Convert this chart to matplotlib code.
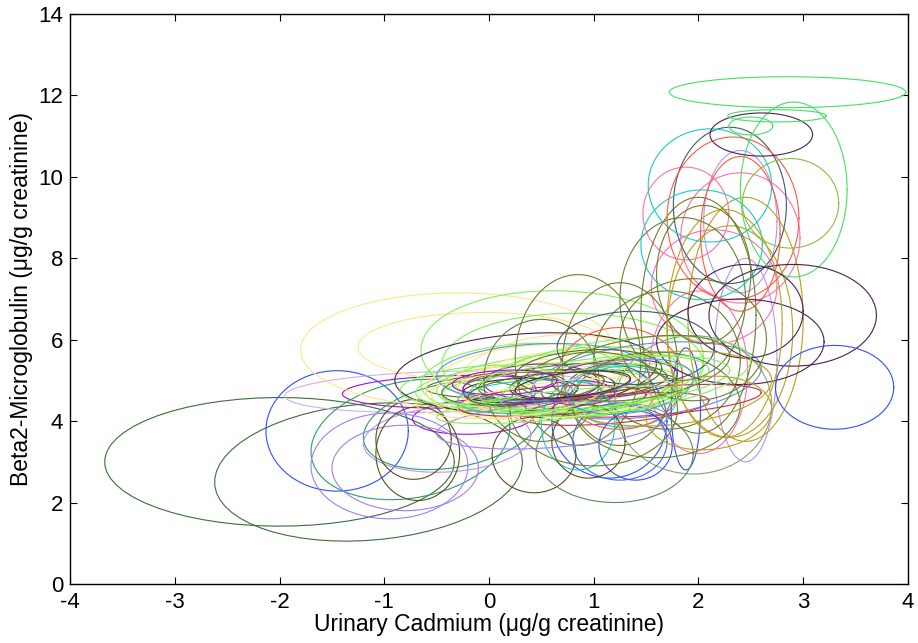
import numpy as np
import matplotlib
matplotlib.use("Agg")
import matplotlib.pyplot as plt

plt.rcParams['font.family'] = ['Liberation Sans', 'DejaVu Sans']
plt.rcParams['axes.unicode_minus'] = False

# ellipse data: centre, half-width, half-height, tilt (y shift at right end), colour
dkgreen = '#3b6e3b'
blue = '#2f4fff'
lavender = '#d4aee6'
purple = '#a010d0'
seagreen = '#2f9a6a'
mpurple = '#9f7ff5'
lpurple = '#b496f0'
brown = '#5e4b1e'
yellow = '#ffe58a'
lgreen = '#7ff25a'
dpurple = '#4a2050'
olive = '#6b7f2a'
dolive = '#5a6b2a'
teal = '#20c8c8'
crimson = '#c03048'
tomato = '#ff5a40'
cblue = '#5a90e0'
pink = '#ff70b0'
gold = '#b8a020'
slate = '#3a5a70'
green = '#46e060'
ygreen = '#8cbc44'
sage = '#8ca070'

cx = [-2.00, -1.15, -1.45, -0.45, -0.30, -0.15, -0.75, -0.35, -0.95, -0.80,
      -0.40, -0.68, -0.72, 0.43, -0.30, -0.05, 0.70, 0.80, 0.35, 0.60,
      0.40, 0.55, 0.65, 0.90, 1.00, 0.30, 0.45, 0.60, 0.35, 0.25,
      0.55, 0.15, 0.55, 0.80, 0.30, 0.70, 0.50, 1.20, 0.10, 0.85,
      0.40, 1.30, 0.60, 1.20, 1.25, 0.50, 1.50, 1.15, 1.88, 1.95,
      2.40, 2.45, 2.00, 1.88, 2.40, 2.15, 2.45, 2.30, 2.00, 1.85,
      0.85, 1.25, 0.50, 1.70, 2.30, 2.11, 2.03, 2.33, 2.40, 2.91,
      2.88, 2.60, 2.85, 2.75, 2.50, 2.90, 2.40, 2.45, 3.30, 1.40,
      1.60, 1.70, 1.20, 0.85, 1.25, 1.40, 0.95, 0.60, 1.10, 1.00,
      1.20, 1.00, 1.60, 2.05, 1.95, 0.20, 0.75, 1.05, 1.45, 2.10,
      -0.10, 0.95, 1.35, 0.70, 0.45, 0.80, 2.25, 0.15]
cy = [3.00, 2.75, 3.76, 4.72, 4.72, 4.10, 3.55, 3.90, 2.90, 2.85,
      3.55, 3.20, 3.55, 3.17, 5.75, 5.82, 5.65, 5.40, 5.20, 4.90,
      4.85, 4.80, 4.95, 5.00, 4.75, 5.05, 4.90, 4.95, 5.00, 4.85,
      5.15, 4.80, 4.90, 4.95, 4.75, 4.85, 4.95, 5.05, 4.75, 4.70,
      4.60, 4.60, 4.50, 4.30, 5.05, 5.20, 5.00, 4.00, 4.30, 4.40,
      8.90, 5.50, 5.20, 9.10, 8.50, 7.30, 6.50, 6.20, 6.60, 7.00,
      5.50, 5.40, 5.00, 5.50, 9.30, 9.79, 8.33, 8.98, 8.60, 9.69,
      9.35, 11.04, 12.08, 11.50, 11.25, 6.60, 5.95, 6.70, 4.83, 5.80,
      4.50, 4.80, 3.20, 3.90, 3.50, 3.40, 3.50, 3.90, 4.90, 4.80,
      5.10, 4.30, 4.40, 7.60, 6.00, 4.65, 4.55, 4.95, 5.30, 4.20,
      4.90, 5.20, 4.85, 4.40, 4.80, 4.90, 6.40, 4.95]
rx = [1.67, 1.47, 0.68, 1.50, 1.10, 0.58, 0.95, 0.85, 0.75, 0.70,
      0.80, 0.40, 0.36, 0.40, 1.50, 1.20, 1.35, 1.25, 1.25, 1.20,
      1.10, 1.00, 1.15, 0.95, 0.80, 0.95, 0.75, 0.85, 0.95, 0.80,
      0.85, 0.60, 0.80, 0.90, 0.55, 0.50, 0.55, 0.60, 0.35, 0.35,
      0.70, 0.50, 0.90, 0.90, 0.60, 1.00, 1.10, 0.55, 0.14, 0.75,
      0.35, 0.30, 0.47, 0.41, 0.57, 0.60, 0.55, 0.60, 0.55, 0.60,
      0.60, 0.55, 0.55, 0.70, 0.54, 0.59, 0.58, 0.63, 0.38, 0.51,
      0.46, 0.49, 1.13, 0.47, 0.21, 0.80, 0.80, 0.55, 0.565, 0.75,
      1.00, 1.00, 0.75, 0.35, 0.45, 0.35, 0.35, 1.10, 1.00, 0.95,
      1.30, 0.80, 0.80, 0.45, 0.70, 0.90, 1.05, 1.25, 0.85, 0.60,
      0.75, 0.70, 0.60, 1.20, 0.65, 0.55, 0.55, 0.50]
ry = [1.58, 1.68, 1.48, 0.50, 0.40, 0.42, 1.45, 1.05, 1.30, 1.05,
      0.80, 1.15, 0.98, 0.93, 1.40, 0.85, 1.55, 1.25, 0.95, 0.35,
      0.55, 0.45, 0.70, 0.80, 0.55, 0.85, 0.60, 0.75, 0.85, 0.55,
      0.95, 0.40, 0.35, 0.45, 0.30, 0.35, 0.45, 0.45, 0.40, 0.30,
      0.40, 0.75, 0.35, 0.35, 1.25, 0.70, 0.90, 1.40, 1.50, 1.70,
      1.75, 2.50, 2.00, 1.14, 1.60, 1.40, 3.00, 2.60, 2.90, 2.00,
      2.10, 2.00, 1.50, 1.70, 1.92, 1.39, 1.35, 2.00, 1.90, 2.15,
      1.10, 0.53, 0.38, 0.15, 0.22, 1.25, 1.05, 1.15, 1.03, 0.90,
      0.35, 0.90, 1.20, 1.10, 0.95, 0.85, 0.90, 0.55, 0.60, 0.50,
      0.90, 1.40, 1.30, 1.70, 1.50, 0.55, 0.45, 0.60, 0.75, 0.90,
      0.45, 0.55, 0.65, 0.35, 0.35, 0.30, 2.80, 0.30]
tilt = [0.00, 0.25, 0.00, 0.10, 0.05, 0.05, 0.30, 0.30, 0.00, 0.00,
        0.10, 0.00, 0.00, 0.00, 0.00, 0.00, -0.10, 0.00, 0.20, 0.10,
        0.15, 0.15, 0.20, 0.20, 0.25, 0.15, 0.15, 0.20, 0.25, 0.20,
        0.25, 0.10, 0.10, 0.15, 0.05, 0.05, 0.00, 0.10, 0.00, 0.00,
        0.10, 0.00, 0.15, 0.20, 0.00, 0.10, 0.30, 0.00, 0.00, 0.00,
        0.00, 0.00, 0.00, 0.00, 0.00, 0.00, 0.00, 0.00, 0.00, 0.00,
        0.00, 0.00, 0.00, 0.00, 0.00, 0.00, 0.00, 0.00, 0.00, 0.00,
        0.00, 0.00, 0.00, 0.00, 0.00, 0.00, 0.00, 0.00, 0.00, 0.00,
        0.20, 0.20, 0.00, 0.00, 0.00, 0.00, 0.00, 0.20, 0.35, 0.35,
        0.40, 0.00, 0.00, 0.00, 0.00, 0.20, 0.25, 0.30, 0.30, 0.10,
        0.15, 0.10, 0.20, 0.30, 0.20, 0.15, 0.00, 0.05]
col = [dkgreen, dkgreen, blue, lavender, purple, purple, seagreen, seagreen, mpurple, mpurple,
       lpurple, brown, brown, brown, yellow, yellow, lgreen, lgreen, dpurple, dolive,
       lgreen, lgreen, lgreen, lgreen, lgreen, lgreen, yellow, yellow, yellow, yellow,
       yellow, dolive, dolive, dolive, dpurple, dpurple, purple, purple, purple, purple,
       teal, teal, crimson, crimson, tomato, cblue, cblue, blue, blue, sage,
       lpurple, lpurple, pink, pink, pink, pink, gold, gold, olive, olive,
       olive, olive, olive, olive, slate, teal, teal, tomato, tomato, green,
       ygreen, dpurple, green, green, green, dpurple, dpurple, dpurple, blue, slate,
       crimson, gold, '#5a8a5a', teal, '#3c6ce0', blue, brown, mpurple, lgreen, lgreen,
       lgreen, olive, olive, olive, olive, yellow, yellow, lgreen, olive, gold,
       lgreen, dolive, cblue, lgreen, dolive, dpurple, gold, purple]

fig = plt.figure(figsize=(9.18, 6.43), dpi=100)
ax = fig.add_axes([0.0763, 0.0918, 0.9127, 0.8864])

t = np.linspace(0, 2 * np.pi, 60)
for i in range(len(cx)):
    x = cx[i] + rx[i] * np.cos(t)
    y = cy[i] + ry[i] * np.sin(t) + tilt[i] * np.cos(t)
    ax.plot(x, y, color=col[i], lw=0.8)

ax.set_xlim(-4, 4)
ax.set_ylim(0, 14)
ax.set_xticks(range(-4, 5))
ax.set_yticks(range(0, 15, 2))
ax.tick_params(direction='in', top=True, right=True, length=5, labelsize=16)
ax.tick_params(axis='x', pad=6)
ax.tick_params(axis='y', pad=5)
ax.set_xlabel('Urinary Cadmium (μg/g creatinine)', fontsize=16.5, labelpad=0)
ax.set_ylabel('Beta2-Microglobulin (μg/g creatinine)', fontsize=16.5, labelpad=4)
for s in ax.spines.values():
    s.set_linewidth(1.0)

plt.savefig('out.png', dpi=100)
